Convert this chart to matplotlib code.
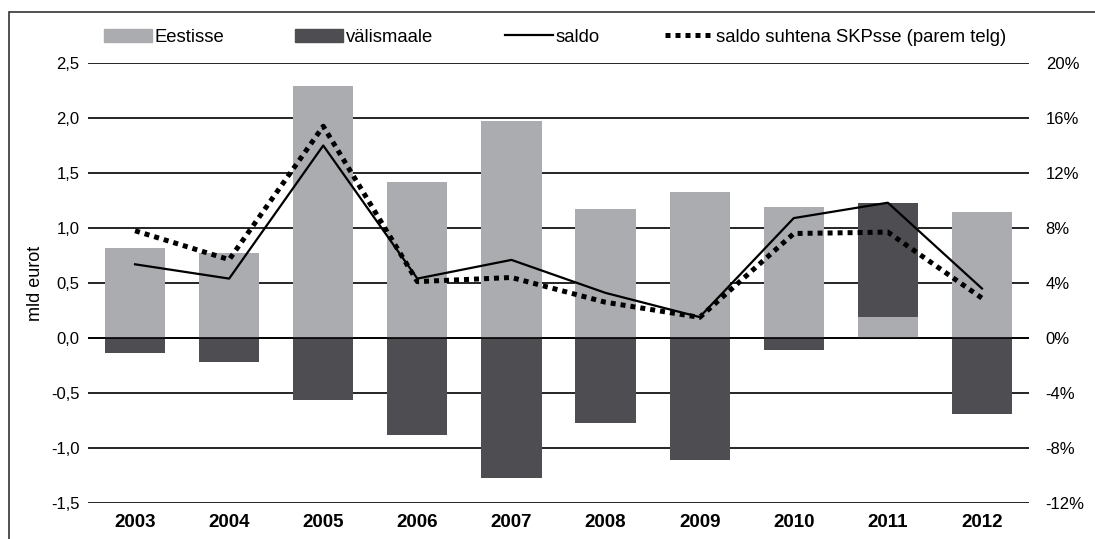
import matplotlib.pyplot as plt
import matplotlib.patches as mpatches
from matplotlib.lines import Line2D
import numpy as np

plt.rcParams['font.family'] = ['Liberation Sans', 'DejaVu Sans']

years = ['2003', '2004', '2005', '2006', '2007', '2008', '2009', '2010', '2011', '2012']
eestisse = [0.82, 0.77, 2.29, 1.42, 1.97, 1.17, 1.33, 1.19, 0.19, 1.145]
valismaale = [-0.14, -0.22, -0.56, -0.88, -1.27, -0.77, -1.11, -0.11, 1.04, -0.69]
saldo = [0.67, 0.54, 1.75, 0.54, 0.71, 0.41, 0.19, 1.09, 1.23, 0.45]
saldo_skp = [7.8, 5.7, 15.4, 4.1, 4.4, 2.6, 1.5, 7.6, 7.7, 2.9]

light = '#abacaf'
dark = '#4e4d52'

fig = plt.figure(figsize=(10.95, 5.39), dpi=100)
ax = fig.add_axes([88/1095, 1 - 503/539, 941/1095, 440/539])
x = np.arange(len(years))

# valismaale is stacked on top of eestisse when it is positive (2011)
bottom = np.where(np.array(valismaale) > 0, eestisse, 0)
ax.bar(x, eestisse, width=0.64, color=light, zorder=2)
ax.bar(x, valismaale, width=0.64, bottom=bottom, color=dark, zorder=2)
ax.plot(x, saldo, color='black', lw=1.6, zorder=4)

ax.set_xlim(-0.5, len(years) - 0.5)
ax.set_ylim(-1.5, 2.5)
ax.set_yticks(np.arange(-1.5, 2.51, 0.5))
ax.set_yticklabels([f'{v:.1f}'.replace('.', ',') for v in np.arange(-1.5, 2.51, 0.5)], fontsize=12)
ax.set_xticks(x)
ax.set_xticklabels(years, fontsize=13.5, fontweight='bold')
ax.tick_params(axis='x', length=0, pad=8)
ax.tick_params(axis='y', length=0, pad=6)
ax.grid(axis='y', color='black', lw=1.2, zorder=0)
ax.set_axisbelow(True)
ax.axhline(0, color='black', lw=1.2, zorder=3)
for s in ax.spines.values():
    s.set_visible(False)
ax.set_ylabel('mld eurot', fontsize=13)
ax.yaxis.set_label_coords(-0.047, 0.5)

ax2 = ax.twinx()
ax2.plot(x, saldo_skp, color='black', lw=3.6, linestyle=(0, (1, 1)), zorder=5)
ax2.set_ylim(-12, 20)
ax2.set_yticks(np.arange(-12, 21, 4))
ax2.set_yticklabels([f'{v}%' for v in range(-12, 21, 4)], fontsize=12)
ax2.tick_params(axis='y', length=0, pad=12)
for s in ax2.spines.values():
    s.set_visible(False)

# legend entries placed one by one
entries = [
    (mpatches.Patch(color=light), 'Eestisse', 104),
    (mpatches.Patch(color=dark), 'välismaale', 295),
    (Line2D([], [], color='black', lw=1.6), 'saldo', 505),
    (Line2D([], [], color='black', lw=3.6, linestyle=(0, (1, 1))), 'saldo suhtena SKPsse (parem telg)', 665),
]
for h, lab, px in entries:
    leg = fig.legend([h], [lab], loc='center left', bbox_to_anchor=(px/1095, 1 - 37/539),
                     frameon=False, fontsize=13.3, handlelength=2.6, handleheight=0.7,
                     handletextpad=0.15, borderpad=0, borderaxespad=0)

frame = mpatches.Rectangle((9/1095, -0.05), 1.1, 1 - 12/539 + 0.05, transform=fig.transFigure,
                           fill=False, edgecolor='#333333', lw=1.2)
fig.patches.append(frame)

fig.savefig('out.png', dpi=100)
